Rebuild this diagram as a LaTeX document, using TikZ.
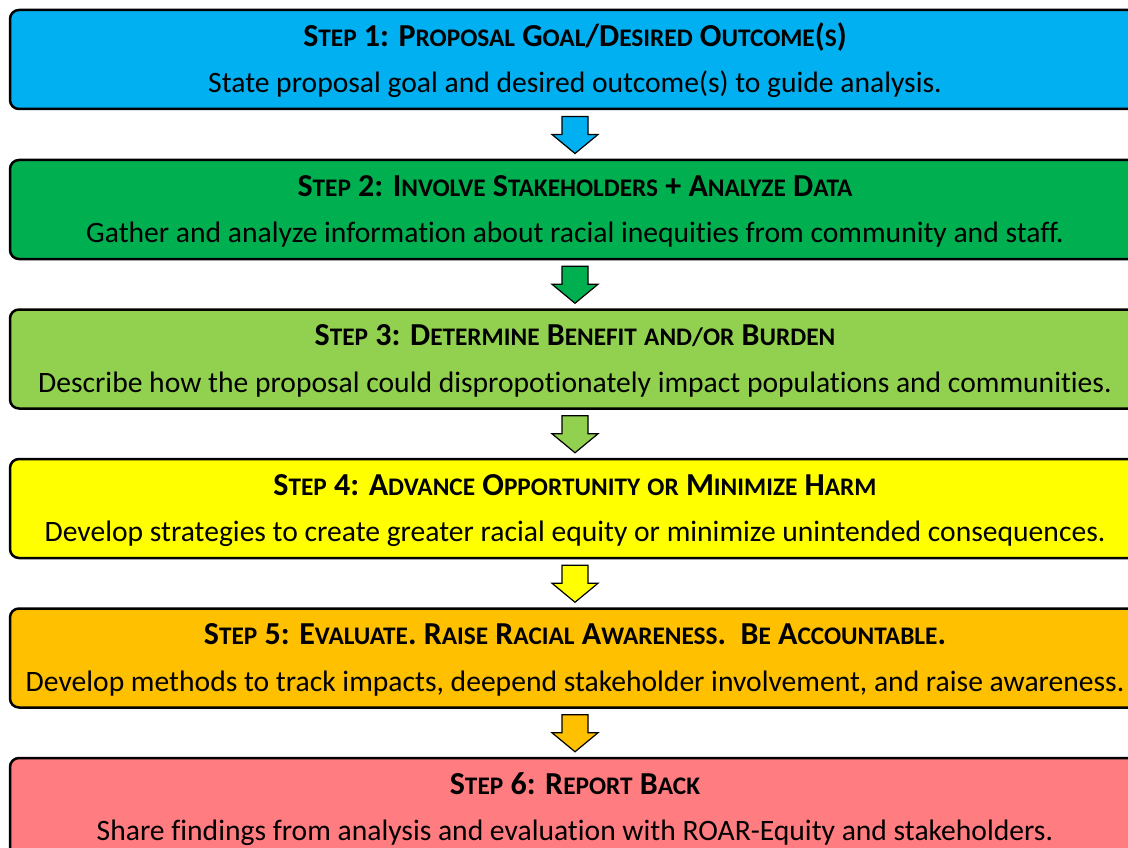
\documentclass[tikz,border=0pt]{standalone}
\usepackage{fontspec}
\setmainfont[Ligatures=NoCommon]{Carlito}
\usetikzlibrary{calc}
\definecolor{c1}{HTML}{00B0F0}
\definecolor{c2}{HTML}{00B050}
\definecolor{c3}{HTML}{92D050}
\definecolor{c4}{HTML}{FFFF00}
\definecolor{c5}{HTML}{FFC000}
\definecolor{c6}{HTML}{FF7C80}
% reduced capitals for the small-caps headings
\newcommand\sm[1]{{\fontsize{25.3}{25.3}\selectfont #1}}
\tikzset{
  stepbox/.style={draw=black, line width=2.5pt, rounded corners=9pt,
    minimum width=1130pt, minimum height=99pt, inner sep=0pt},
  steptitle/.style={font=\fontsize{32}{32}\selectfont\bfseries, inner sep=0pt, anchor=base},
  stepbody/.style={font=\fontsize{29.6}{29.6}\selectfont, inner sep=0pt, anchor=base},
  downarrow/.style={draw=black, line width=1.2pt, line join=miter}
}
% block arrow between two step boxes
\newcommand\steparrow[3]{%
  \coordinate (m) at ($(#1.south)!0.5!(#2.north)$);
  \draw[downarrow, fill=#3] ($(m)+(-13,-18)$) -- ($(m)+(13,-18)$) -- ($(m)+(13,0)$)
    -- ($(m)+(23,0)$) -- ($(m)+(0,19)$) -- ($(m)+(-23,0)$) -- ($(m)+(-13,0)$) -- cycle;}
\begin{document}
\begin{tikzpicture}[x=1pt,y=-1pt]
\useasboundingbox (0,0) rectangle (1128,848);
\clip (0,0) rectangle (1128,848);
\fill[white] (0,0) rectangle (1128,848);

\node[stepbox, fill=c1] (s1) at (575,59.5) {};
\node[stepbox, fill=c2] (s2) at (575,209.5) {};
\node[stepbox, fill=c3] (s3) at (575,359) {};
\node[stepbox, fill=c4] (s4) at (575,508.5) {};
\node[stepbox, fill=c5] (s5) at (575,658) {};
\node[stepbox, fill=c6] (s6) at (575,807.5) {};

\node[steptitle] (t1) at ($(s1.north)+(0,37.5)$) {S\sm{TEP} 1: P\sm{ROPOSAL} G\sm{OAL}/D\sm{ESIRED} O\sm{UTCOME}(\sm{S})};
\node[stepbody] (b1) at ($(s1.north)+(0,84)$) {State proposal goal and desired outcome(s) to guide analysis.};

\node[steptitle] (t2) at ($(s2.north)+(0,37.5)$) {S\sm{TEP} 2: I\sm{NVOLVE} S\sm{TAKEHOLDERS} + A\sm{NALYZE} D\sm{ATA}};
\node[stepbody] (b2) at ($(s2.north)+(0,84)$) {Gather and analyze information about racial inequities from community and staff.};

\node[steptitle] (t3) at ($(s3.north)+(0,37.5)$) {S\sm{TEP} 3: D\sm{ETERMINE} B\sm{ENEFIT} \sm{AND/OR} B\sm{URDEN}};
\node[stepbody] (b3) at ($(s3.north)+(0,84)$) {Describe how the proposal could dispropotionately impact populations and communities.};

\node[steptitle] (t4) at ($(s4.north)+(0,37.5)$) {S\sm{TEP} 4: A\sm{DVANCE} O\sm{PPORTUNITY} \sm{OR} M\sm{INIMIZE} H\sm{ARM}};
\node[stepbody] (b4) at ($(s4.north)+(0,84)$) {Develop strategies to create greater racial equity or minimize unintended consequences.};

\node[steptitle] (t5) at ($(s5.north)+(0,37.5)$) {S\sm{TEP} 5: E\sm{VALUATE}. R\sm{AISE} R\sm{ACIAL} A\sm{WARENESS}.\ \ B\sm{E} A\sm{CCOUNTABLE}.};
\node[stepbody] (b5) at ($(s5.north)+(0,84)$) {Develop methods to track impacts, deepend stakeholder involvement, and raise awareness.};

\node[steptitle] (t6) at ($(s6.north)+(0,37.5)$) {S\sm{TEP} 6: R\sm{EPORT} B\sm{ACK}};
\node[stepbody] (b6) at ($(s6.north)+(0,84)$) {Share findings from analysis and evaluation with ROAR-Equity and stakeholders.};

\steparrow{s1}{s2}{c1}
\steparrow{s2}{s3}{c2}
\steparrow{s3}{s4}{c3}
\steparrow{s4}{s5}{c4}
\steparrow{s5}{s6}{c5}
\end{tikzpicture}
\end{document}
